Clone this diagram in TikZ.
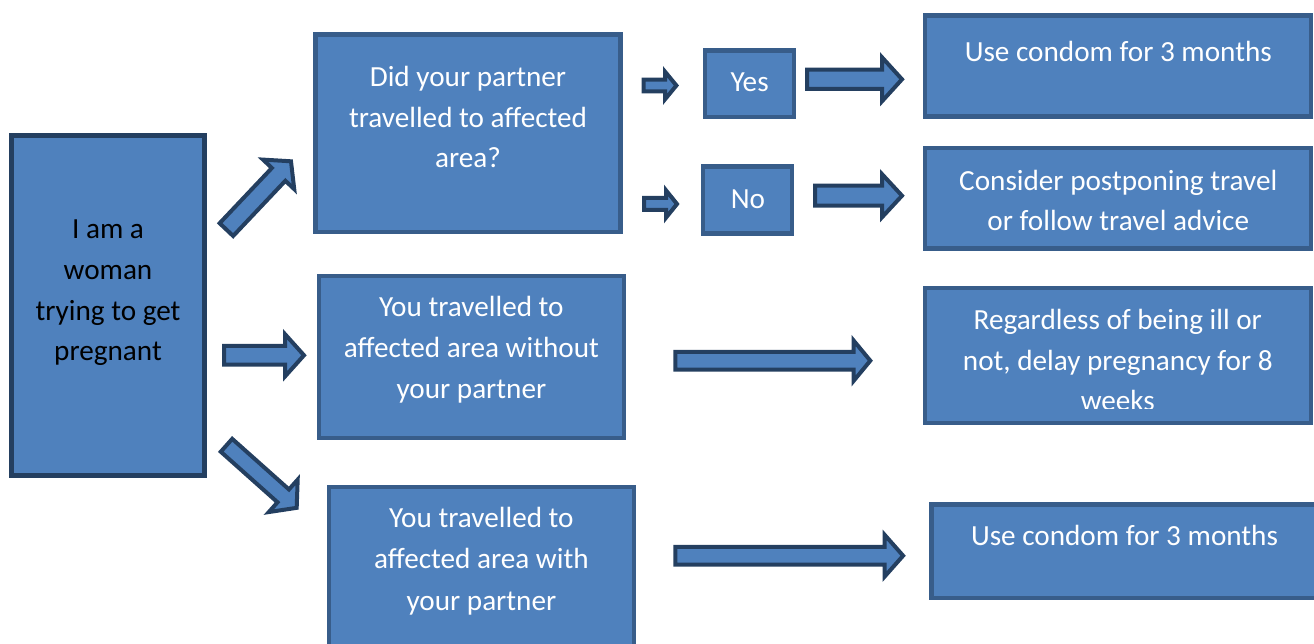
\documentclass[tikz,border=0pt]{standalone}
\usepackage{fontspec}
\setmainfont{Carlito}
\definecolor{boxfill}{HTML}{4F81BD}
\definecolor{boxline}{HTML}{385D8A}
\definecolor{darkline}{HTML}{243F60}
\newcommand\topstrut{\rule{0pt}{23pt}}
\newcommand\blkarrowdraw[8]{%
  \begin{scope}[shift={(#2,#3)},rotate=#4]
    \draw[blkarrow] (0,#6) -- ({#5-#8},#6) -- ({#5-#8},#7) -- (#5,0)
      -- ({#5-#8},-#7) -- ({#5-#8},-#6) -- (0,-#6) -- cycle;
    \coordinate (#1) at (0,0);
  \end{scope}}
\begin{document}
\begin{tikzpicture}[x=1pt,y=-1pt,
  box/.style={draw=boxline, fill=boxfill, line width=4.5pt, rectangle, inner sep=0pt},
  startbox/.style={box, draw=darkline, line width=5pt},
  blkarrow/.style={draw=darkline, fill=boxfill, line width=4pt, line join=miter},
  txt/.style={text=white, align=center, inner sep=0pt, anchor=north,
    font=\fontsize{29.2pt}{40.8pt}\selectfont},
  darktxt/.style={txt, text=black}]
\useasboundingbox (0,0) rectangle (1314,644);
\clip (0,0) rectangle (1314,644);

% boxes
\node[startbox, minimum width=192.4pt, minimum height=340pt] (A) at (108,305.2) {};
\node[box, minimum width=305pt, minimum height=197.3pt] (B) at (468,133.2) {};
\node[box, minimum width=88.7pt, minimum height=66.5pt] (Y) at (749.4,83.8) {};
\node[box, minimum width=88.8pt, minimum height=67pt] (N) at (747.6,200) {};
\node[box, minimum width=385.8pt, minimum height=101pt] (R1) at (1117.9,66) {};
\node[box, minimum width=385.8pt, minimum height=100.5pt] (R2) at (1117.9,198.2) {};
\node[box, minimum width=304.8pt, minimum height=161.6pt] (C) at (471.4,357) {};
\node[box, minimum width=385.8pt, minimum height=134.8pt] (R3) at (1117.9,355.4) {};
\node[box, minimum width=304.8pt, minimum height=162.8pt] (D) at (481.4,568.6) {};
\node[box, minimum width=386.7pt, minimum height=93.3pt] (R4) at (1124.6,551.1) {};

% texts
\node[darktxt] (tA) at (108,215.3) {\topstrut I am a\\woman\\trying to get\\pregnant};
\node[txt, font=\fontsize{29.2pt}{40.5pt}\selectfont] (tB) at (468,63.7) {\topstrut Did your partner\\travelled to affected\\area?};
\node[txt] (tY) at (749.6,68.7) {\topstrut Yes};
\node[txt] (tN) at (748,185.3) {\topstrut No};
\node[txt] (tR1) at (1118.3,38) {\topstrut Use condom for 3 months};
\node[txt, font=\fontsize{29.2pt}{40pt}\selectfont] (tR2) at (1118.3,167.5) {\topstrut Consider postponing travel\\or follow travel advice};
\node[txt] (tC) at (471.4,293.7) {\topstrut You travelled to\\affected area without\\your partner};
\begin{scope}
  \clip (925,288) rectangle (1311,408);
  \node[txt, font=\fontsize{29.2pt}{40.7pt}\selectfont] (tR3) at (1117.8,306.3) {\topstrut Regardless of being ill or\\not, delay pregnancy for 8\\weeks};
\end{scope}
\node[txt, font=\fontsize{29.2pt}{41.3pt}\selectfont] (tD) at (481.4,504.3) {\topstrut You travelled to\\affected area with\\your partner};
\node[txt] (tR4) at (1124.5,522) {\topstrut Use condom for 3 months};

% block arrows: name, x, y, angle, length, shaft half width, head half width, head length
\blkarrowdraw{aAB}{226.4}{229.6}{46.6}{94}{9.3}{21.5}{18}
\blkarrowdraw{aAC}{224}{355.3}{0}{80}{9.35}{21.15}{19}
\blkarrowdraw{aAD}{226.5}{445.3}{-41.7}{94}{8.6}{21.7}{18}
\blkarrowdraw{aBY}{643.7}{85.5}{0}{32.7}{5.8}{13.85}{11.4}
\blkarrowdraw{aBN}{644}{204}{0}{33}{6}{13.7}{11}
\blkarrowdraw{aYR}{807}{79.3}{0}{95}{9.65}{22}{20}
\blkarrowdraw{aNR}{815}{195.7}{0}{87}{10}{21.6}{20}
\blkarrowdraw{aCR}{675.3}{360.7}{0}{195}{8.85}{20.2}{16.7}
\blkarrowdraw{aDR}{675.3}{555.7}{0}{227.8}{8.85}{20.8}{18.4}
\end{tikzpicture}
\end{document}
